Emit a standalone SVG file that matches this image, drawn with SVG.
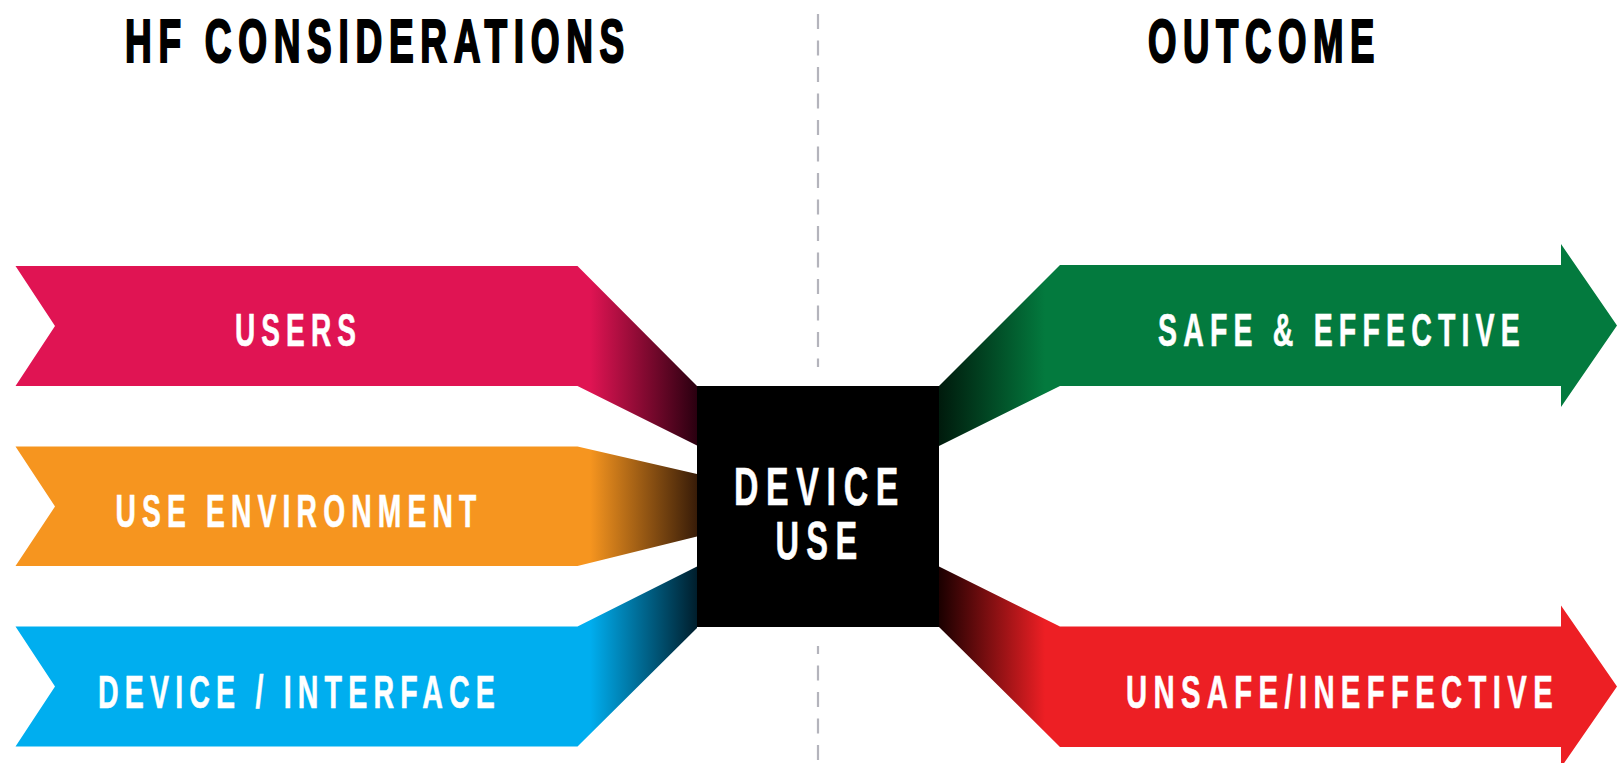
<svg xmlns="http://www.w3.org/2000/svg" width="1617" height="763" viewBox="0 0 1617 763">
  <style>
    .txt { font-family: "Liberation Sans", Arial, sans-serif; font-weight: bold; }
    .hd { font-size: 61px; letter-spacing: 11px; fill: #000; stroke: #000; stroke-width: 2.2px; stroke-linejoin: miter; }
    .lb { font-size: 46px; letter-spacing: 10px; fill: #fff; stroke: #fff; stroke-width: 0.6px; }
    .ct { font-size: 53px; letter-spacing: 12px; fill: #fff; stroke: #fff; stroke-width: 0.6px; }
    .divider { stroke: #b4b4bc; stroke-width: 2.2; stroke-dasharray: 15 11.5; fill: none; }
  </style>
  <defs>
    <linearGradient id="gPink" gradientUnits="userSpaceOnUse" x1="590" y1="0" x2="697" y2="0">
      <stop offset="0" stop-color="#E01453"/>
      <stop offset="1" stop-color="#2A0010"/>
    </linearGradient>
    <linearGradient id="gOrange" gradientUnits="userSpaceOnUse" x1="590" y1="0" x2="697" y2="0">
      <stop offset="0" stop-color="#F6951F"/>
      <stop offset="1" stop-color="#381C08"/>
    </linearGradient>
    <linearGradient id="gBlue" gradientUnits="userSpaceOnUse" x1="590" y1="0" x2="697" y2="0">
      <stop offset="0" stop-color="#00AEEF"/>
      <stop offset="1" stop-color="#001E2C"/>
    </linearGradient>
    <linearGradient id="gGreen" gradientUnits="userSpaceOnUse" x1="939" y1="0" x2="1045" y2="0">
      <stop offset="0" stop-color="#001A0C"/>
      <stop offset="1" stop-color="#037A3E"/>
    </linearGradient>
    <linearGradient id="gRed" gradientUnits="userSpaceOnUse" x1="939" y1="0" x2="1045" y2="0">
      <stop offset="0" stop-color="#1A0000"/>
      <stop offset="1" stop-color="#ED1F24"/>
    </linearGradient>
  </defs>

  <rect width="1617" height="763" fill="#fff"/>

  <!-- column headings -->
  <g id="headings">
    <text class="txt hd" x="125" y="61.5" textLength="506" lengthAdjust="spacingAndGlyphs">HF CONSIDERATIONS</text>
    <text class="txt hd" x="1148" y="61.5" textLength="233" lengthAdjust="spacingAndGlyphs">OUTCOME</text>
  </g>

  <!-- dashed divider between the two columns -->
  <g id="divider">
    <path class="divider" d="M818,14 V367"/>
    <path class="divider" d="M818,646 V763" stroke-dashoffset="7"/>
  </g>

  <!-- connectors: ribbons into and out of the central box -->
  <g id="connectors">
    <g id="users">
      <path d="M15.5,266 H577.5 L697,386 V445.5 L577.5,386 H15.5 L55,326 Z" fill="url(#gPink)"/>
      <text class="txt lb" x="235" y="345.5" textLength="127" lengthAdjust="spacingAndGlyphs">USERS</text>
    </g>
    <g id="use-environment">
      <path d="M15.5,446.5 H577.5 L697,474 V536.5 L577.5,566 H15.5 L55,506.5 Z" fill="url(#gOrange)"/>
      <text class="txt lb" x="115.5" y="527" textLength="367" lengthAdjust="spacingAndGlyphs">USE ENVIRONMENT</text>
    </g>
    <g id="device-interface">
      <path d="M15.5,626.5 H577.5 L697,566.5 V628 L577.5,746.5 H15.5 L55,686.5 Z" fill="url(#gBlue)"/>
      <text class="txt lb" x="98" y="707.5" textLength="403" lengthAdjust="spacingAndGlyphs">DEVICE / INTERFACE</text>
    </g>
    <g id="safe-effective">
      <path d="M939,386 L1060,265 H1561 V244 L1617,325.5 L1561,407 V386 H1060 L939,446 Z" fill="url(#gGreen)"/>
      <text class="txt lb" transform="translate(1158,345.5) scale(0.62,1)" textLength="593.5" lengthAdjust="spacingAndGlyphs">SAFE &amp; EFFECTIVE</text>
    </g>
    <g id="unsafe-ineffective">
      <path d="M939,566.5 L1060,626.5 H1561 V605.5 L1617,686.5 L1561,767.5 V747 H1060 L939,627 Z" fill="url(#gRed)"/>
      <text class="txt lb" transform="translate(1126,707.5) scale(0.62,1)" textLength="698.4" lengthAdjust="spacingAndGlyphs">UNSAFE/INEFFECTIVE</text>
    </g>
  </g>

  <!-- central node -->
  <g id="device-use">
    <rect x="697" y="386" width="242" height="241" fill="#000"/>
    <text class="txt ct" x="734" y="505" textLength="172" lengthAdjust="spacingAndGlyphs">DEVICE</text>
    <text class="txt ct" x="775.5" y="559" textLength="89" lengthAdjust="spacingAndGlyphs">USE</text>
  </g>
</svg>
